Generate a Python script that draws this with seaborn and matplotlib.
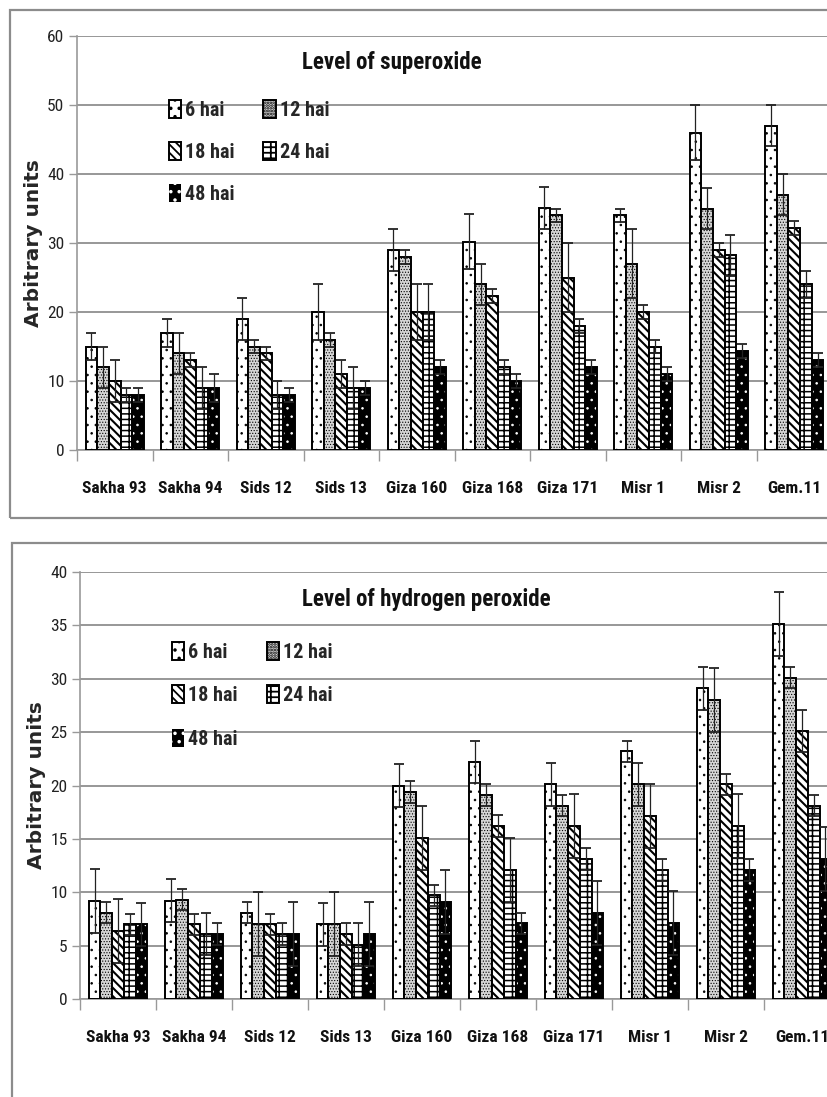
import numpy as np
import pandas as pd
import matplotlib
matplotlib.use("Agg")
import matplotlib.pyplot as plt
from matplotlib.patches import Rectangle
from matplotlib.container import BarContainer
from matplotlib import font_manager
import seaborn as sns

cultivars = ["Sakha 93", "Sakha 94", "Sids 12", "Sids 13", "Giza 160",
             "Giza 168", "Giza 171", "Misr 1", "Misr 2", "Gem.11"]
times = ["6 hai", "12 hai", "18 hai", "24 hai", "48 hai"]

# Superoxide (top panel): values per time, over cultivars
sup_6 = [15, 17, 19, 20, 29, 30.2, 35.1, 34, 46, 47]
sup_12 = [12, 14, 15, 16, 28, 24, 34, 27, 35, 37]
sup_18 = [10, 13, 14, 11, 20, 22.3, 25, 20, 29, 32.2]
sup_24 = [8, 9, 8, 9, 20, 12, 18, 15, 28.2, 24]
sup_48 = [8, 9, 8, 9, 12, 10, 12, 11, 14.3, 13]
sup_err_6 = [2, 2, 3, 4, 3, 4, 3, 1, 4, 3]
sup_err_12 = [3, 3, 1, 1, 1, 3, 1, 5, 3, 3]
sup_err_18 = [3, 1, 1, 2, 4, 1, 5, 1, 1, 1]
sup_err_24 = [1, 3, 2, 3, 4, 1, 1, 1, 3, 2]
sup_err_48 = [1, 2, 1, 1, 1, 1, 1, 1, 1, 1]

# Hydrogen peroxide (bottom panel)
h2o2_6 = [9.2, 9.2, 8.1, 7, 20, 22.2, 20.1, 23.2, 29.1, 35.1]
h2o2_12 = [8.1, 9.3, 7, 7, 19.4, 19.1, 18.1, 20.1, 28, 30.1]
h2o2_18 = [6.4, 7, 7, 6.1, 15.1, 16.2, 16.2, 17.1, 20.1, 25.1]
h2o2_24 = [7, 6.1, 6.1, 5.1, 9.7, 12.1, 13.1, 12.1, 16.2, 18.1]
h2o2_48 = [7, 6.1, 6.1, 6.1, 9.1, 7.1, 8.1, 7.1, 12.1, 13.1]
h2o2_err_6 = [3, 2, 1, 2, 2, 2, 2, 1, 2, 3]
h2o2_err_12 = [1, 1, 3, 3, 1, 1, 1, 2, 3, 1]
h2o2_err_18 = [3, 1, 1, 1, 3, 1, 3, 3, 1, 2]
h2o2_err_24 = [1, 2, 1, 2, 1, 3, 1, 1, 3, 1]
h2o2_err_48 = [2, 1, 3, 3, 3, 1, 3, 3, 1, 3]

# fonts
names = {f.name for f in font_manager.fontManager.ttflist}
narrow = None
for cand in ["Liberation Sans Narrow", "Roboto Condensed", "Open Sans Condensed",
             "DejaVu Sans Condensed", "Noto Sans Condensed"]:
    if cand in names:
        narrow = cand
        break
narrow_fam = [narrow, "DejaVu Sans"] if narrow else ["DejaVu Sans"]

sns.set_theme(style="white")
plt.rcParams["font.family"] = narrow_fam
plt.rcParams["hatch.linewidth"] = 1.3


def make_df(vals):
    rows = []
    for t, v in zip(times, vals):
        for c, y in zip(cultivars, v):
            rows.append({"cultivar": c, "time": t, "value": y})
    return pd.DataFrame(rows)


hatches = ["..", "......", "\\\\\\\\", "---||", ".."]
hatch_lw = [0.6, 0.5, 1.5, 1.1, 0.6]
faces = ["white", "#d6d6d6", "white", "white", "black"]


def draw(ax, vals, errs, ymax, ystep, title, title_x, leg_xy, lspace):
    df = make_df(vals)
    sns.barplot(data=df, x="cultivar", y="value", hue="time", hue_order=times,
                order=cultivars, palette=faces, width=0.77, errorbar=None,
                edgecolor="black", linewidth=1.4, ax=ax, legend=False,
                saturation=1, zorder=3)
    bars = [c for c in ax.containers if isinstance(c, BarContainer)]
    for i, cont in enumerate(bars):
        for j, p in enumerate(cont.patches):
            p.set_hatch(hatches[i])
            p.set_facecolor(faces[i])
            if hasattr(p, "set_hatch_linewidth"):
                p.set_hatch_linewidth(hatch_lw[i])
            if i == 4:
                p.set_edgecolor("white")
                p.set_linewidth(0)
                ax.add_patch(Rectangle(p.get_xy(), p.get_width(), p.get_height(),
                                       fill=False, ec="black", lw=1.4, zorder=3.5))
            x = p.get_x() + p.get_width() / 2
            ax.errorbar(x, p.get_height(), yerr=errs[i][j], fmt="none",
                        ecolor="#222222", elinewidth=0.9, capsize=3.5,
                        capthick=1.3, zorder=4)
    ax.set_xlim(-0.5, len(cultivars) - 0.5)
    ax.set_ylim(0, ymax)
    ax.set_yticks(np.arange(0, ymax + 0.1, ystep))
    ax.set_yticklabels([f"{int(v)}" for v in np.arange(0, ymax + 0.1, ystep)],
                       fontsize=12.5, color="#222222")
    ax.set_xticks(range(len(cultivars)))
    ax.set_xticklabels(cultivars, fontsize=12.5, fontweight="bold", color="#111111")
    ax.set_xticks(np.arange(-0.5, len(cultivars), 1), minor=True)
    ax.tick_params(axis="x", which="major", length=0, pad=22)
    ax.tick_params(axis="x", which="minor", length=8, width=1, color="#999999",
                   direction="out", bottom=True)
    ax.tick_params(axis="y", length=6, width=1, color="#999999", direction="out",
                   left=True, pad=3)
    ax.yaxis.grid(True, color="#858585", linewidth=1.2, zorder=0)
    ax.xaxis.grid(False)
    ax.set_axisbelow(True)
    for s in ["top", "right"]:
        ax.spines[s].set_visible(False)
    for s in ["left", "bottom"]:
        ax.spines[s].set_color("#999999")
        ax.spines[s].set_linewidth(1.2)
    ax.set_xlabel("")
    ax.set_ylabel("Arbitrary units", fontsize=14.5, fontweight="bold",
                  family="DejaVu Sans", labelpad=3)
    ax.text(title_x, 0.935, title, transform=ax.transAxes, ha="center",
            va="center", fontsize=16.5, fontweight="bold", color="#111111")
    order = [0, 2, 4, 1, 3]
    handles = [bars[k] for k in order]
    labels = [times[k] for k in order]
    ax.legend(handles, labels, ncol=2, loc="upper left",
              bbox_to_anchor=leg_xy, frameon=False,
              prop={"size": 14.5, "weight": "bold", "family": narrow_fam},
              handlelength=0.6, handleheight=1.0, handletextpad=0.2,
              labelspacing=lspace, columnspacing=1.45, borderpad=0)


fig = plt.figure(figsize=(8.27, 10.97), dpi=100)
ax1 = fig.add_axes([77 / 827, 1 - 450 / 1097, 755 / 827, 414 / 1097])
ax2 = fig.add_axes([80 / 827, 1 - 999 / 1097, 760 / 827, 427 / 1097])

draw(ax1, [sup_6, sup_12, sup_18, sup_24, sup_48],
     [sup_err_6, sup_err_12, sup_err_18, sup_err_24, sup_err_48],
     60, 10, "Level of superoxide", 0.417, (0.108, 0.87), 1.1)
draw(ax2, [h2o2_6, h2o2_12, h2o2_18, h2o2_24, h2o2_48],
     [h2o2_err_6, h2o2_err_12, h2o2_err_18, h2o2_err_24, h2o2_err_48],
     40, 5, "Level of hydrogen peroxide", 0.456, (0.108, 0.86), 1.17)

# panel frames
fig.add_artist(Rectangle((10 / 827, 1 - 518 / 1097), 1.2, (518 - 10) / 1097,
                         transform=fig.transFigure, fill=False, ec="#8c8c8c",
                         lw=1.6))
fig.add_artist(Rectangle((12 / 827, -0.05), 1.2, 0.05 + (1097 - 543) / 1097,
                         transform=fig.transFigure, fill=False, ec="#8c8c8c",
                         lw=1.6))

fig.savefig("out.png", dpi=100)
